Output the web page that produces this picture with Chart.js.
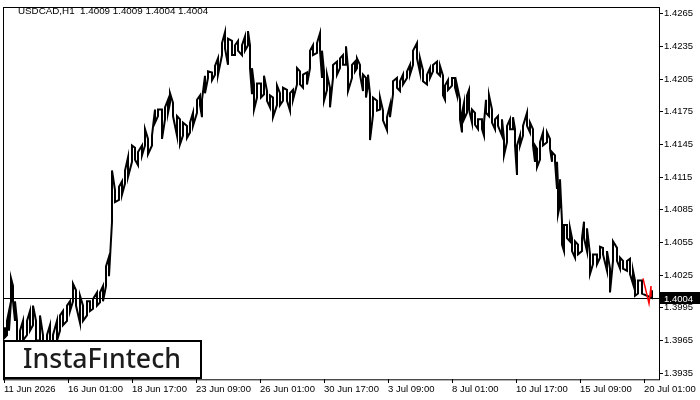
<!DOCTYPE html>
<html>
<head>
<meta charset="utf-8">
<script src="https://cdn.jsdelivr.net/npm/chart.js@4.4.0/dist/chart.umd.min.js"></script>
<style>
  html, body { margin: 0; padding: 0; background: #fff; }
  #wrap { width: 700px; height: 400px; }
</style>
</head>
<body>
<div id="wrap"><canvas id="g-usdcad" width="700" height="400"></canvas></div>
<script>
var hours = [
  1, 3, 5, 7, 9, 11, 13, 16, 19, 23,
  26, 29, 32, 36, 39, 43, 46, 49, 53, 56,
  59, 63, 66, 69, 72, 76, 79, 83, 86, 89,
  93, 96, 99, 102, 105, 108, 111, 115, 118, 121,
  124, 128, 131, 134, 138, 141, 144, 148, 151, 154,
  158, 161, 164, 166, 169, 173, 176, 179, 183, 186,
  189, 193, 196, 198, 201, 204, 208, 211, 214, 218,
  221, 224, 228, 231, 234, 238, 241, 244, 246, 248,
  250, 253, 257, 260, 263, 266, 269, 273, 276, 279,
  283, 286, 289, 293, 296, 299, 303, 306, 309, 313,
  316, 318, 320, 323, 326, 329, 333, 336, 339, 342,
  344, 348, 351, 353, 356, 359, 362, 364, 366, 369,
  373, 376, 379, 383, 386, 389, 393, 396, 399, 403,
  406, 409, 413, 416, 419, 423, 426, 429, 433, 436,
  439, 441, 444, 448, 451, 453, 456, 458, 460, 463,
  465, 468, 471, 474, 478, 480, 482, 485, 488, 491,
  494, 498, 500, 503, 506, 509, 511, 513, 516, 519,
  523, 526, 529, 531, 533, 536, 539, 543, 546, 548,
  551, 553, 554, 556, 558, 560, 563, 566, 568, 571,
  574, 578, 580, 583, 586, 589, 593, 596, 599, 603,
  606, 609, 613, 616, 619, 623, 626, 629, 631, 634,
  638, 648
];
var highs = [
  1.3977, 1.3983, 1.3992, 1.4022, 1.4015, 1.4001, 1.3983, 1.3974, 1.3983, 1.3983,
  1.3992, 1.3997, 1.3983, 1.3988, 1.3970, 1.3970, 1.3979, 1.3970, 1.3983, 1.3988,
  1.3992, 1.3997, 1.4001, 1.4017, 1.4011, 1.4006, 1.3997, 1.4001, 1.4001, 1.4003,
  1.4009, 1.4009, 1.4015, 1.4033, 1.4042, 1.4121, 1.4103, 1.4106, 1.4111, 1.4121,
  1.4133, 1.4144, 1.4142, 1.4138, 1.4144, 1.4159, 1.4150, 1.4153, 1.4177, 1.4177,
  1.4177, 1.4179, 1.4186, 1.4192, 1.4183, 1.4171, 1.4168, 1.4165, 1.4162, 1.4165,
  1.4174, 1.4186, 1.4190, 1.4186, 1.4208, 1.4212, 1.4211, 1.4217, 1.4224, 1.4238,
  1.4248, 1.4242, 1.4240, 1.4236, 1.4240, 1.4236, 1.4244, 1.4249, 1.4236, 1.4215,
  1.4200, 1.4201, 1.4201, 1.4208, 1.4194, 1.4190, 1.4188, 1.4199, 1.4192, 1.4197,
  1.4195, 1.4192, 1.4195, 1.4215, 1.4212, 1.4209, 1.4211, 1.4231, 1.4236, 1.4238,
  1.4247, 1.4231, 1.4212, 1.4209, 1.4197, 1.4218, 1.4221, 1.4224, 1.4227, 1.4235,
  1.4215, 1.4218, 1.4221, 1.4224, 1.4218, 1.4209, 1.4206, 1.4209, 1.4191, 1.4188,
  1.4185, 1.4188, 1.4176, 1.4170, 1.4181, 1.4203, 1.4206, 1.4203, 1.4209, 1.4212,
  1.4218, 1.4231, 1.4238, 1.4224, 1.4213, 1.4209, 1.4215, 1.4218, 1.4221, 1.4217,
  1.4208, 1.4199, 1.4204, 1.4206, 1.4206, 1.4199, 1.4186, 1.4174, 1.4183, 1.4190,
  1.4195, 1.4177, 1.4174, 1.4168, 1.4168, 1.4165, 1.4186, 1.4190, 1.4177, 1.4168,
  1.4171, 1.4168, 1.4150, 1.4162, 1.4168, 1.4170, 1.4159, 1.4144, 1.4153, 1.4162,
  1.4174, 1.4165, 1.4159, 1.4144, 1.4141, 1.4147, 1.4156, 1.4156, 1.4150, 1.4138,
  1.4135, 1.4129, 1.4108, 1.4113, 1.4074, 1.4071, 1.4071, 1.4068, 1.4059, 1.4056,
  1.4053, 1.4059, 1.4074, 1.4068, 1.4044, 1.4044, 1.4044, 1.4051, 1.4050, 1.4047,
  1.4031, 1.4056, 1.4050, 1.4041, 1.4038, 1.4038, 1.4040, 1.4029, 1.4020, 1.4020,
  1.4020, 1.4011
];
var lows = [
  1.3968, 1.3970, 1.3974, 1.4001, 1.4001, 1.3983, 1.3965, 1.3961, 1.3965, 1.3970,
  1.3974, 1.3979, 1.3965, 1.3965, 1.3958, 1.3958, 1.3965, 1.3958, 1.3965, 1.3974,
  1.3979, 1.3983, 1.3992, 1.4001, 1.3997, 1.3981, 1.3983, 1.3988, 1.3992, 1.3994,
  1.3997, 1.4000, 1.4001, 1.4015, 1.4024, 1.4074, 1.4092, 1.4094, 1.4099, 1.4109,
  1.4115, 1.4129, 1.4131, 1.4126, 1.4135, 1.4144, 1.4136, 1.4144, 1.4165, 1.4171,
  1.4150, 1.4168, 1.4174, 1.4183, 1.4171, 1.4153, 1.4145, 1.4153, 1.4151, 1.4156,
  1.4162, 1.4174, 1.4181, 1.4170, 1.4192, 1.4206, 1.4204, 1.4209, 1.4209, 1.4227,
  1.4233, 1.4218, 1.4227, 1.4227, 1.4231, 1.4227, 1.4231, 1.4236, 1.4215, 1.4191,
  1.4177, 1.4188, 1.4188, 1.4191, 1.4185, 1.4179, 1.4170, 1.4181, 1.4181, 1.4185,
  1.4185, 1.4176, 1.4186, 1.4200, 1.4200, 1.4197, 1.4200, 1.4215, 1.4227, 1.4229,
  1.4231, 1.4206, 1.4185, 1.4195, 1.4179, 1.4206, 1.4209, 1.4215, 1.4218, 1.4218,
  1.4194, 1.4206, 1.4212, 1.4215, 1.4209, 1.4194, 1.4188, 1.4200, 1.4149, 1.4172,
  1.4176, 1.4177, 1.4167, 1.4158, 1.4170, 1.4191, 1.4197, 1.4194, 1.4200, 1.4206,
  1.4209, 1.4218, 1.4224, 1.4211, 1.4203, 1.4200, 1.4206, 1.4212, 1.4211, 1.4208,
  1.4190, 1.4186, 1.4195, 1.4199, 1.4197, 1.4190, 1.4168, 1.4156, 1.4168, 1.4174,
  1.4177, 1.4165, 1.4163, 1.4159, 1.4159, 1.4153, 1.4174, 1.4171, 1.4165, 1.4159,
  1.4162, 1.4153, 1.4135, 1.4147, 1.4159, 1.4159, 1.4144, 1.4117, 1.4144, 1.4153,
  1.4162, 1.4156, 1.4144, 1.4129, 1.4124, 1.4131, 1.4144, 1.4147, 1.4141, 1.4129,
  1.4129, 1.4104, 1.4081, 1.4090, 1.4053, 1.4047, 1.4059, 1.4056, 1.4047, 1.4041,
  1.4044, 1.4047, 1.4059, 1.4047, 1.4026, 1.4035, 1.4035, 1.4041, 1.4044, 1.4029,
  1.4009, 1.4038, 1.4038, 1.4031, 1.4031, 1.4029, 1.4026, 1.4017, 1.4006, 1.4008,
  1.4008, 1.4004
];
// last few hours drawn in red
var lastHours = [639, 645, 647, 647];
var lastPrices = [1.4022, 1.3999, 1.4015, 1.4005];

var xTickHours = [0, 64, 128, 192, 256, 320, 384, 448, 512, 576, 640];
var xTickLabels = ['11 Jun 2026', '16 Jun 01:00', '18 Jun 17:00', '23 Jun 09:00', '26 Jun 01:00',
  '30 Jun 17:00', '3 Jul 09:00', '8 Jul 01:00', '10 Jul 17:00', '15 Jul 09:00', '20 Jul 01:00'];
var yTicks = [1.3935, 1.3965, 1.3995, 1.4025, 1.4055, 1.4085, 1.4115, 1.4145, 1.4175, 1.4205, 1.4235, 1.4265];

var symbol = 'USDCAD,H1';
var ohlc = [1.4009, 1.4009, 1.4004, 1.4004];
var lastPrice = 1.4004;
var logoText = 'InstaF\u0131ntech';

var fuente = 'Liberation Sans';

// each sample goes high->low or low->high so the line zigzags like hourly bars
var zigzag = [];
hours.forEach(function (h, i) {
  if (i % 2 === 0) {
    zigzag.push({ x: h, y: highs[i] }, { x: h, y: lows[i] });
  } else {
    zigzag.push({ x: h, y: lows[i] }, { x: h, y: highs[i] });
  }
});

var extras = {
  id: 'extras',
  beforeDatasetsDraw: function (chart) {
    var ctx = chart.ctx, a = chart.chartArea;
    var py = Math.round(chart.scales.y.getPixelForValue(lastPrice)) + 0.5;
    ctx.save();
    ctx.strokeStyle = '#000';
    ctx.lineWidth = 1;
    ctx.beginPath();
    ctx.moveTo(a.left, py);
    ctx.lineTo(a.right, py);
    ctx.stroke();
    ctx.restore();
  },
  afterDraw: function (chart) {
    var ctx = chart.ctx, a = chart.chartArea;
    ctx.save();
    // marco
    ctx.strokeStyle = '#000';
    ctx.lineWidth = 1;
    ctx.strokeRect(Math.round(a.left) + 0.5, Math.round(a.top) + 0.5, a.right - a.left, a.bottom - a.top);

    // cabecera
    ctx.fillStyle = '#000';
    ctx.font = '9.8px "' + fuente + '"';
    ctx.textBaseline = 'alphabetic';
    ctx.textAlign = 'left';
    ctx.fillText(symbol + '  ' + ohlc.map(function (v) { return v.toFixed(4); }).join(' '), 18, 14);

    // precio actual
    var py = Math.round(chart.scales.y.getPixelForValue(lastPrice));
    ctx.fillStyle = '#000';
    ctx.fillRect(a.right + 1, py - 6, 40, 12);
    ctx.fillStyle = '#fff';
    ctx.font = '9.5px "' + fuente + '"';
    ctx.textBaseline = 'middle';
    ctx.fillText(lastPrice.toFixed(4), a.right + 5, py + 1);

    // logo
    ctx.fillStyle = '#fff';
    ctx.fillRect(3, 340, 199, 39);
    ctx.strokeStyle = '#000';
    ctx.lineWidth = 2;
    ctx.strokeRect(4, 341, 197, 37);
    ctx.fillStyle = '#1c1c1c';
    ctx.font = '500 27px "Noto Sans"';
    ctx.textBaseline = 'alphabetic';
    var w = ctx.measureText(logoText).width;
    ctx.translate(23, 368);
    ctx.scale(158 / w, 1);
    ctx.fillText(logoText, 0, 0);
    ctx.restore();
  }
};

var idhtml = document.getElementById('g-usdcad').getContext('2d');
var g_lineas = new Chart(idhtml, {
  type: 'line',
  data: {
    datasets: [{
      label: 'last',
      data: lastHours.map(function (h, i) { return { x: h, y: lastPrices[i] }; }),
      borderColor: '#ff0000',
      borderWidth: 1.5,
      pointRadius: 0,
      order: 0
    }, {
      label: 'USDCAD',
      data: zigzag,
      borderColor: '#000',
      borderWidth: 2,
      pointRadius: 0,
      tension: 0,
      order: 1
    }]
  },
  options: {
    responsive: false,
    animation: false,
    devicePixelRatio: 1,
    layout: { padding: { left: 3, top: 3, right: 0, bottom: 0 } },
    plugins: { legend: { display: false }, tooltip: { enabled: false } },
    scales: {
      x: {
        type: 'linear',
        min: -1,
        max: 655,
        offset: false,
        afterBuildTicks: function (s) { s.ticks = xTickHours.map(function (v) { return { value: v }; }); },
        afterFit: function (s) { s.height = 21; },
        border: { display: false },
        grid: { drawOnChartArea: false, drawTicks: true, tickLength: 4, color: '#000' },
        ticks: {
          autoSkip: false, maxRotation: 0, align: 'start', padding: 1, color: '#000',
          font: { family: fuente, size: 9.5 },
          callback: function (v, i) { return xTickLabels[i]; }
        }
      },
      y: {
        position: 'right',
        min: 1.39296,
        max: 1.42714,
        afterBuildTicks: function (s) { s.ticks = yTicks.map(function (v) { return { value: v }; }); },
        afterFit: function (s) { s.width = 41; },
        border: { display: false },
        grid: { drawOnChartArea: false, drawTicks: true, tickLength: 4, color: '#000' },
        ticks: {
          padding: 1, color: '#000',
          font: { family: fuente, size: 9.5 },
          callback: function (v) { return v.toFixed(4); }
        }
      }
    }
  },
  plugins: [extras]
});
</script>
</body>
</html>
